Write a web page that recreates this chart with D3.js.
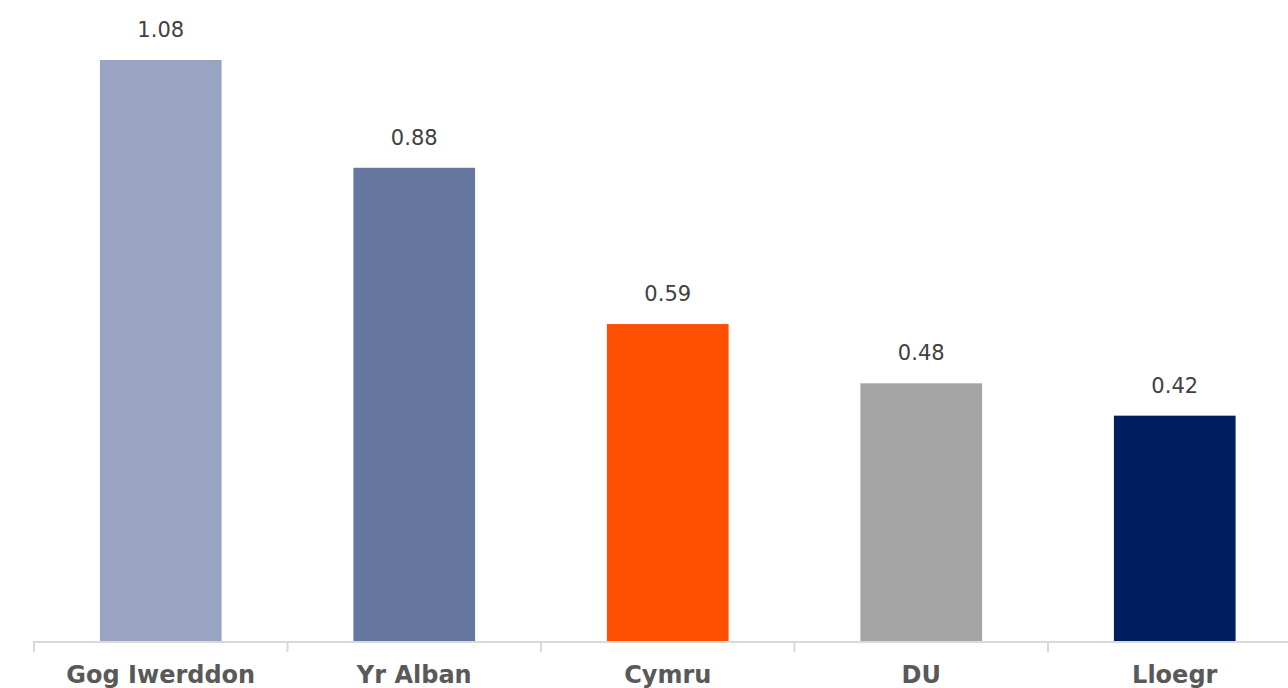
<!DOCTYPE html>
<html lang="en">
<head>
  <meta charset="UTF-8">
  <title>Chart</title>
  <style>
    body { margin: 0; background: #fff; }
  </style>
</head>
<body>
  <script src="https://cdn.jsdelivr.net/npm/d3@7/dist/d3.min.js"></script>
  <script>
// data
const categories = ['Gog Iwerddon', 'Yr Alban', 'Cymru', 'DU', 'Lloegr'];
const values = [1.08, 0.88, 0.59, 0.48, 0.42];
const colors = ['#98a4c1', '#65769f', '#fe5000', '#a5a5a5', '#001f5f'];

const width = 1288;
const height = 688;

const svg = d3.select('body')
  .append('svg')
  .attr('width', width)
  .attr('height', height);

const baseline = 642;

// x scale: each category gets one band, tick at band edges
const xScale = d3.scaleBand()
  .domain(categories)
  .range([34, 34 + 5 * 253.5])
  .padding(0);

const barW = xScale.bandwidth() * 0.48;

// y scale
const yScale = d3.scaleLinear()
  .domain([0, 1.08])
  .range([baseline, 60]);

// bars
svg.selectAll('.bar')
  .data(values)
  .enter()
  .append('rect')
  .attr('class', 'bar')
  .attr('x', (d, i) => xScale(categories[i]) + (xScale.bandwidth() - barW) / 2)
  .attr('width', barW)
  .attr('y', d => yScale(d))
  .attr('height', d => baseline - yScale(d))
  .attr('fill', (d, i) => colors[i]);

// value labels
svg.selectAll('.val')
  .data(values)
  .enter()
  .append('text')
  .attr('class', 'val')
  .attr('x', (d, i) => xScale(categories[i]) + xScale.bandwidth() / 2)
  .attr('y', d => yScale(d) - 23)
  .attr('text-anchor', 'middle')
  .attr('font-family', 'DejaVu Sans, sans-serif')
  .attr('font-size', 21)
  .attr('fill', '#404040')
  .text(d => d.toFixed(2));

// x axis
const xAxis = d3.axisBottom(xScale).tickSize(0).tickSizeOuter(0);
const ax = svg.append('g')
  .attr('transform', `translate(0, ${baseline})`)
  .call(xAxis);

ax.select('.domain')
  .attr('stroke', '#d9d9d9')
  .attr('stroke-width', 2)
  .attr('d', `M33,0H${width}`);

ax.selectAll('.tick text')
  .attr('y', 41)
  .attr('dy', 0)
  .attr('font-family', 'DejaVu Sans, sans-serif')
  .attr('font-size', 24)
  .attr('font-weight', 'bold')
  .attr('fill', '#595959');

// separator ticks between categories
svg.append('g')
  .selectAll('line')
  .data(categories)
  .enter()
  .append('line')
  .attr('x1', d => xScale(d))
  .attr('x2', d => xScale(d))
  .attr('y1', baseline)
  .attr('y2', baseline + 10)
  .attr('stroke', '#d9d9d9')
  .attr('stroke-width', 2);
  </script>
</body>
</html>
